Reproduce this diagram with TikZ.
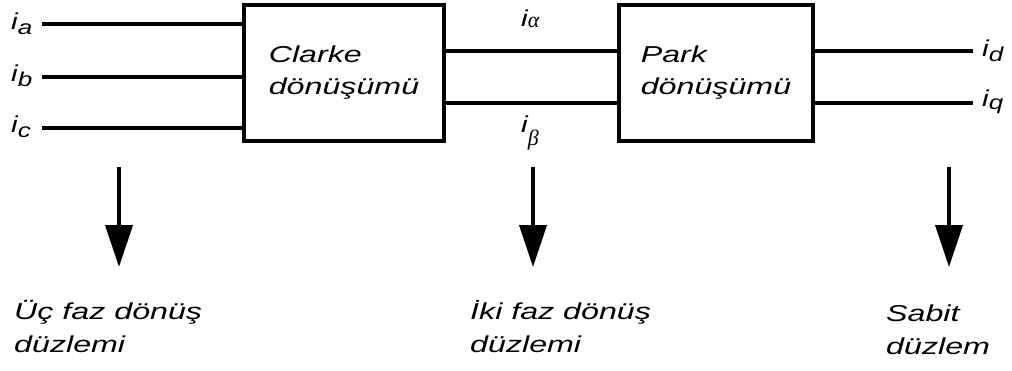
\documentclass[tikz,border=0pt]{standalone}
\usepackage{fontspec}
\setmainfont{Liberation Sans}[FakeStretch=1.4]
\newfontfamily\lblfont{Liberation Sans}[FakeStretch=1.3]
\newfontfamily\grkfont{Liberation Serif}
\usetikzlibrary{arrows.meta}

\tikzset{
  blk/.style={draw, line width=4pt, align=left, inner sep=0pt,
    font=\fontsize{23}{32}\selectfont\itshape},
  wire/.style={line width=4pt},
  down/.style={line width=4pt, -{Triangle[width=27pt,length=42pt]}},
  plane/.style={align=left, inner sep=0pt, anchor=base west,
    font=\fontsize{23}{33}\selectfont\itshape},
  sig/.style={inner sep=0pt, anchor=base west,
    font=\lblfont\fontsize{23}{26}\selectfont\itshape},
}
\newcommand{\subx}[2][-5pt]{\raisebox{#1}{\fontsize{20}{22}\selectfont #2}}

\begin{document}
\begin{tikzpicture}[x=1pt,y=1pt]
  \useasboundingbox (0,0) rectangle (1012,370);

  % transformation blocks
  \node[blk, minimum width=200pt, minimum height=136pt] (clarke) at (344,297) {Clarke\\dönüşümü};
  \node[blk, minimum width=194pt, minimum height=136pt] (park) at (716,297) {Park\\dönüşümü};

  % three-phase inputs
  \coordinate (a0) at (42,346);
  \coordinate (b0) at (42,293);
  \coordinate (c0) at (42,242);
  \draw[wire] (a0) -- (a0 -| clarke.west);
  \draw[wire] (b0) -- (b0 -| clarke.west);
  \draw[wire] (c0) -- (c0 -| clarke.west);

  % two-phase stationary signals
  \coordinate (al) at (clarke.east |- 0,319);
  \coordinate (be) at (clarke.east |- 0,267);
  \draw[wire] (al) -- (al -| park.west);
  \draw[wire] (be) -- (be -| park.west);

  % rotating frame outputs
  \coordinate (d1) at (973,319);
  \coordinate (q1) at (973,267);
  \draw[wire] (d1 -| park.east) -- (d1);
  \draw[wire] (q1 -| park.east) -- (q1);

  % signal names
  \node[sig] (ia) at (11,340) {i\subx{a}};
  \node[sig] (ib) at (11,288) {i\subx{b}};
  \node[sig] (ic) at (11,237) {i\subx{c}};
  \node[sig] (ial) at (521,343) {i\subx[-1pt]{\grkfont\itshape\fontsize{22}{24}\selectfont α}};
  \node[sig] (ibe) at (521,237) {i\subx[-13pt]{\grkfont\itshape\fontsize{22}{24}\selectfont β}};
  \node[sig] (id) at (982,313) {i\subx{d}};
  \node[sig] (iq) at (982,263) {i\subx[-3pt]{q}};

  % frame descriptions (anchored on the baseline of the last line)
  \node[plane] (p1) at (14,18) {Üç faz dönüş\\düzlemi};
  \node[plane] (p2) at (470,18) {İki faz dönüş\\düzlemi};
  \node[plane] (p3) at (886,16) {Sabit\\düzlem};

  % pointers to the descriptions
  \coordinate (t1) at (119,203);
  \coordinate (t2) at (533,203);
  \coordinate (t3) at (949,203);
  \draw[down] (t1) -- ++(0,-100);
  \draw[down] (t2) -- ++(0,-100);
  \draw[down] (t3) -- ++(0,-100);
\end{tikzpicture}
\end{document}
